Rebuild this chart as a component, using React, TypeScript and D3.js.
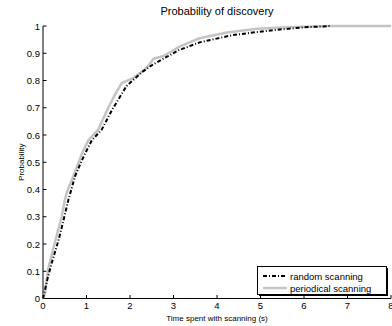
import React from "react";
import * as d3 from "d3";

const xTicks = [0, 1, 2, 3, 4, 5, 6, 7, 8];
const yTicks = [0, 0.1, 0.2, 0.3, 0.4, 0.5, 0.6, 0.7, 0.8, 0.9, 1];

const periodicT = [0, 0.05, 0.12, 0.28, 0.43, 0.5, 0.55, 0.7, 0.89, 1.04, 1.27, 1.5, 1.66, 1.81, 2.08, 2.34, 2.45, 2.54, 2.77, 3.15, 3.6, 4.23, 4.92, 5.6, 6.6, 8];
const periodicP = [0, 0.02, 0.11, 0.21, 0.3, 0.36, 0.39, 0.45, 0.53, 0.58, 0.62, 0.7, 0.75, 0.79, 0.81, 0.84, 0.86, 0.88, 0.89, 0.925, 0.955, 0.976, 0.99, 0.995, 1.0, 1.0];

const randomT = [0, 0.1, 0.2, 0.35, 0.43, 0.58, 0.74, 0.93, 1.12, 1.35, 1.58, 1.77, 1.92, 2.27, 2.54, 2.77, 3.1, 3.6, 4.37, 5.3, 6.0, 6.6];
const randomP = [0, 0.07, 0.13, 0.21, 0.26, 0.36, 0.45, 0.52, 0.58, 0.62, 0.69, 0.74, 0.78, 0.83, 0.86, 0.88, 0.91, 0.94, 0.967, 0.985, 0.995, 1.0];

const W = 392, H = 326;
const L = 43, R = 391, T = 26, B = 298.5;

export default function App() {
  const x = d3.scaleLinear().domain([0, 8]).range([L, R]);
  const y = d3.scaleLinear().domain([0, 1]).range([B, T]);
  const line = d3.line<[number, number]>().x(d => x(d[0])).y(d => y(d[1]));
  const per = periodicT.map((t, i) => [t, periodicP[i]] as [number, number]);
  const rnd = randomT.map((t, i) => [t, randomP[i]] as [number, number]);
  const font = "Liberation Sans, Arial, Helvetica, sans-serif";
  return (
    <div style={{ position: "fixed", left: 0, top: 0 }}>
      <svg width={W} height={H} style={{ display: "block", background: "#fff" }} fontFamily={font}>
        <rect x={0} y={0} width={W} height={H} fill="#fff" />
        <text x={(L + R) / 2} y={15} textAnchor="middle" fontSize={11}>Probability of discovery</text>
        {/* axes */}
        <line x1={L} y1={T} x2={L} y2={B} stroke="#000" strokeWidth={1} />
        <line x1={L} y1={B} x2={R} y2={B} stroke="#000" strokeWidth={1} />
        {yTicks.map(v => (
          <g key={"y" + v}>
            <line x1={L} x2={L + 3.5} y1={y(v)} y2={y(v)} stroke="#000" />
            <text x={L - 3} y={y(v) + 3.5} textAnchor="end" fontSize={9.5}>{String(v)}</text>
          </g>
        ))}
        {xTicks.map(v => (
          <g key={"x" + v}>
            <line x1={x(v)} x2={x(v)} y1={B} y2={B - 3.5} stroke="#000" />
            <text x={x(v)} y={B + 10.5} textAnchor="middle" fontSize={9.5}>{String(v)}</text>
          </g>
        ))}
        <text x={(L + R) / 2} y={321} textAnchor="middle" fontSize={8}>Time spent with scanning (s)</text>
        <text transform={`translate(24,${(T + B) / 2}) rotate(-90)`} textAnchor="middle" fontSize={8}>Probability</text>
        {/* curves */}
        <path d={line(per) || ""} fill="none" stroke="#c4c4c4" strokeWidth={2.5} strokeLinejoin="round" />
        <path d={line(rnd) || ""} fill="none" stroke="#000" strokeWidth={2} strokeDasharray="4,2,1,2" />
        {/* legend */}
        <rect x={259} y={268} width={129} height={28} fill="#000" />
        <rect x={257.5} y={266.5} width={129} height={28} fill="#fff" stroke="#000" strokeWidth={1} />
        <line x1={263} x2={287} y1={276} y2={276} stroke="#000" strokeWidth={2} strokeDasharray="4,2,1,2" />
        <text x={290} y={279.5} fontSize={9.5}>random scanning</text>
        <line x1={263} x2={287} y1={288} y2={288} stroke="#c4c4c4" strokeWidth={2.5} />
        <text x={290} y={291.5} fontSize={9.5}>periodical scanning</text>
      </svg>
    </div>
  );
}
